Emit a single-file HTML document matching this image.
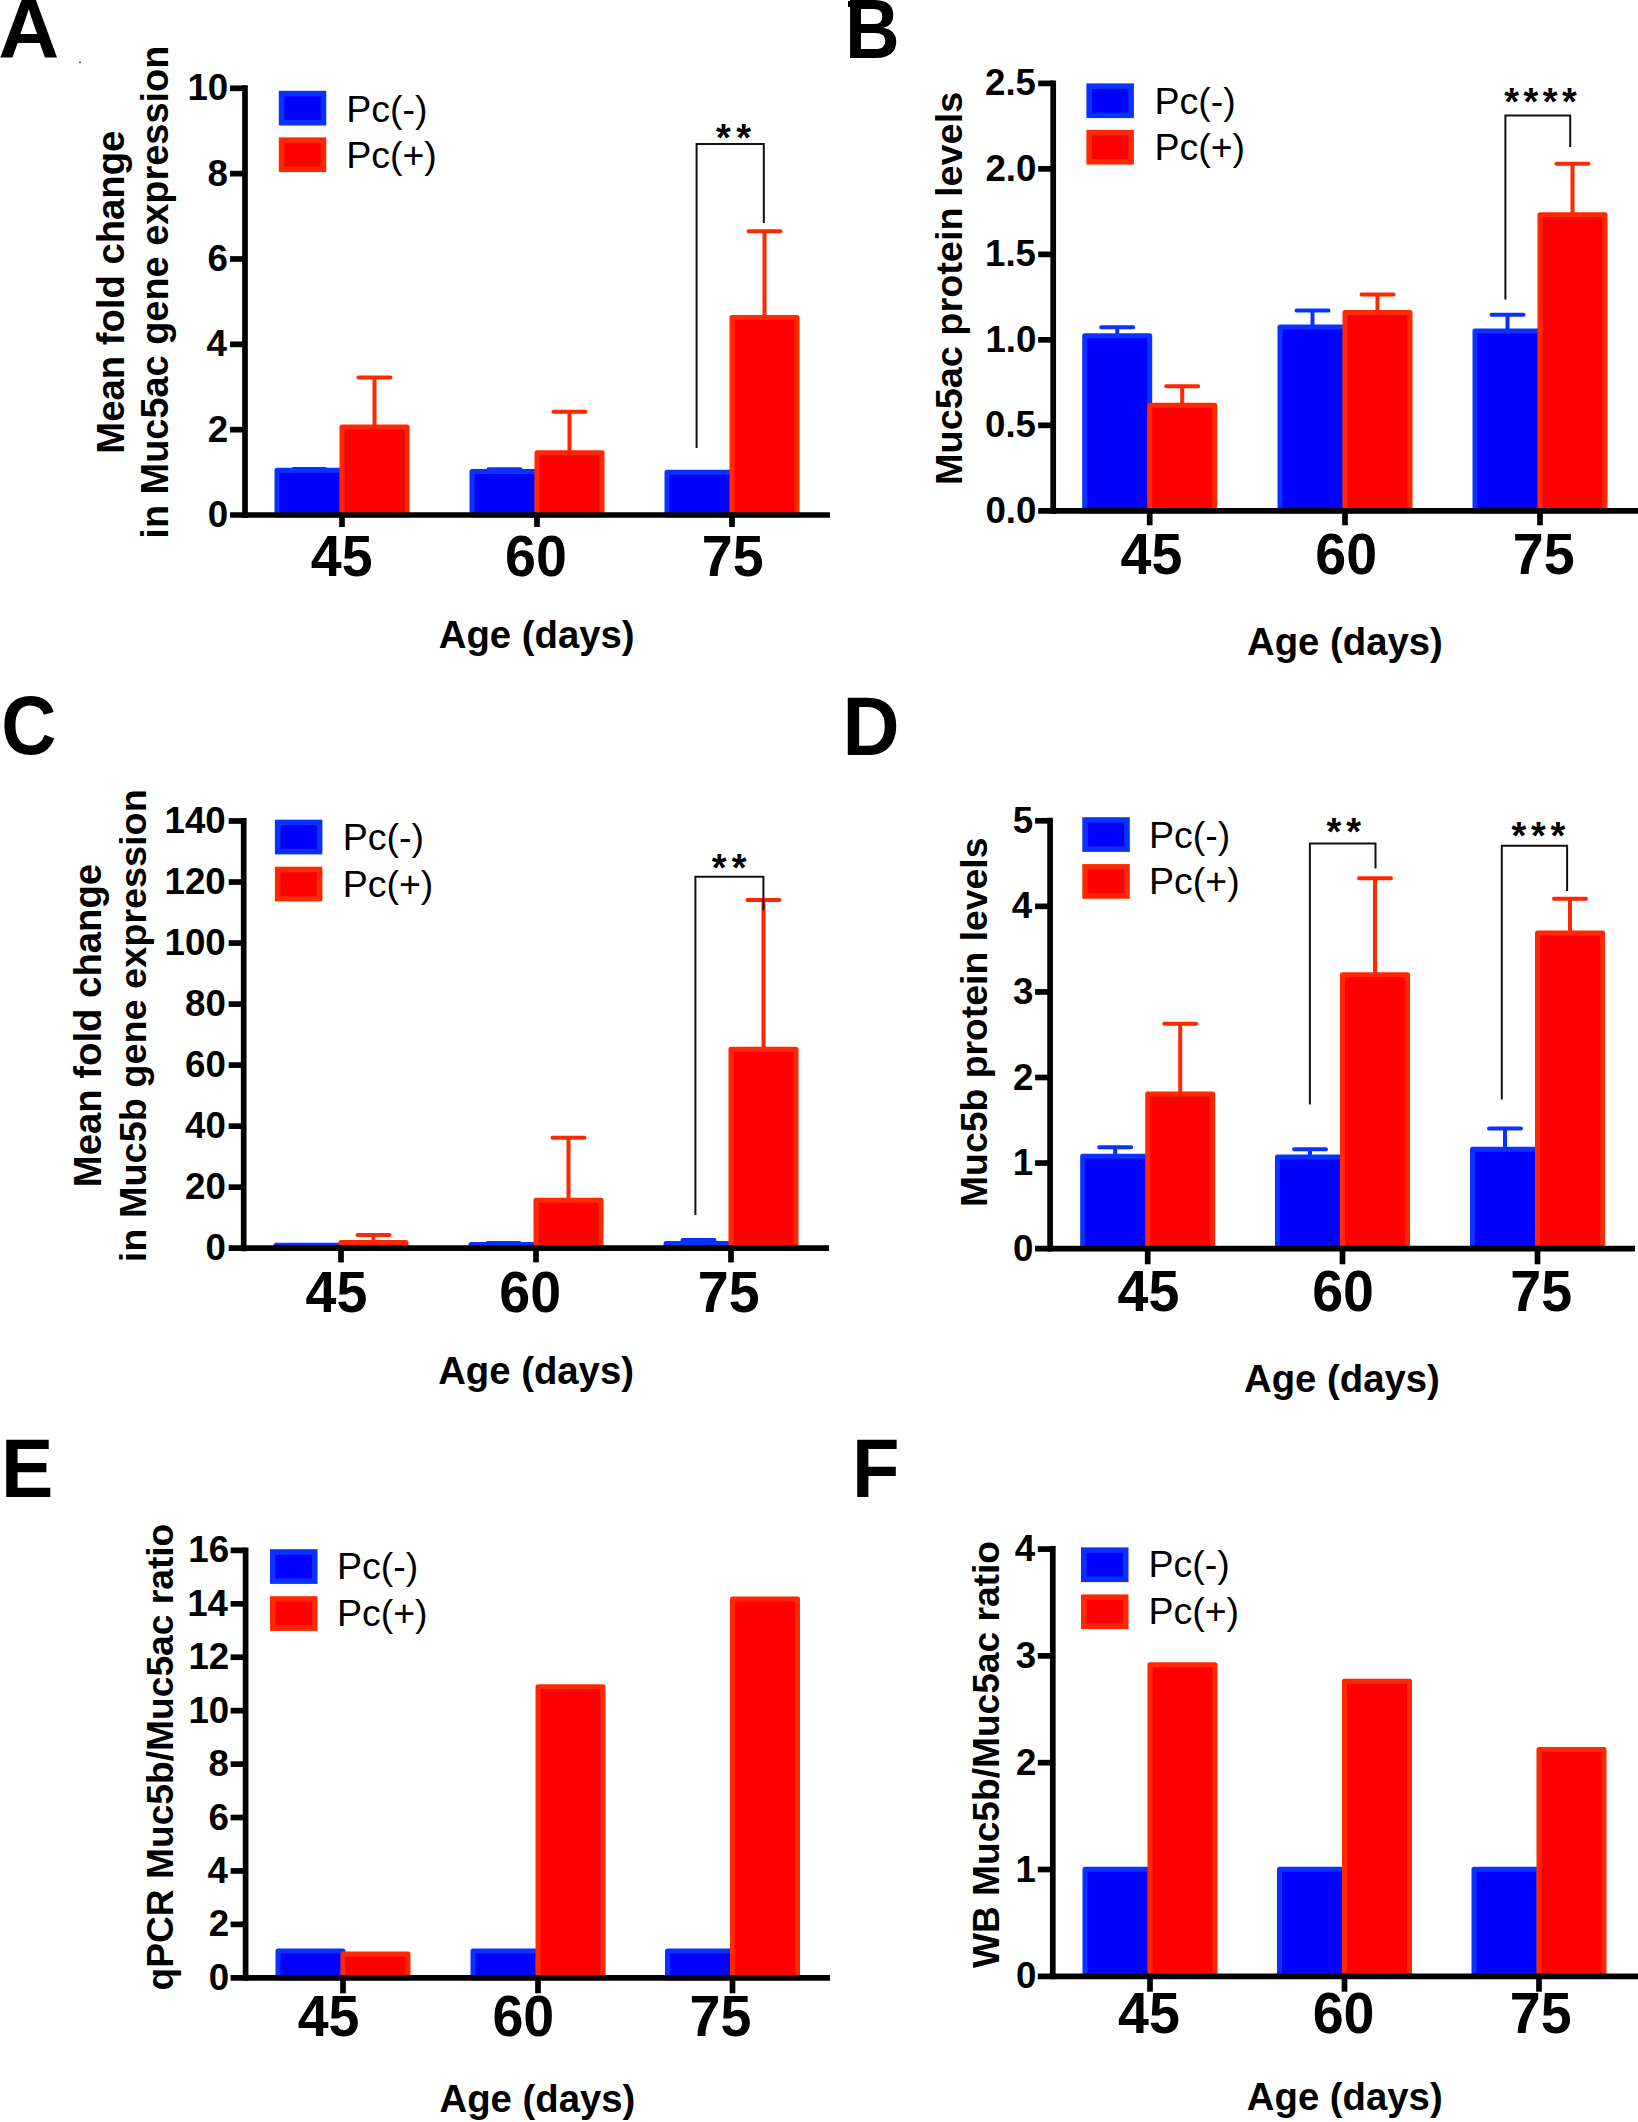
<!DOCTYPE html>
<html lang="en"><head><meta charset="utf-8"><title>Figure</title>
<style>html,body{margin:0;padding:0;background:#fff}svg{display:block}text{fill:#000}</style></head>
<body><svg width="1638" height="2122" viewBox="0 0 1638 2122">
<rect width="1638" height="2122" fill="#fff"/>
<g id="panelA"><path d="M309.5 470.2V468.92M293.5 468.92H325.5" stroke="#0a32ff" stroke-width="4" stroke-linecap="round" fill="none"/>
<rect x="277" y="470.2" width="65" height="44.8" fill="#0000ff" stroke="#0a32ff" stroke-width="5" stroke-linejoin="round"/>
<path d="M374.5 427.1V377.6M358.5 377.6H390.5" stroke="#ff2800" stroke-width="4" stroke-linecap="round" fill="none"/>
<rect x="342" y="427.1" width="65" height="87.9" fill="#ff0000" stroke="#ff2800" stroke-width="5" stroke-linejoin="round"/>
<path d="M504.5 471.48V469.34M488.5 469.34H520.5" stroke="#0a32ff" stroke-width="4" stroke-linecap="round" fill="none"/>
<rect x="472" y="471.48" width="65" height="43.52" fill="#0000ff" stroke="#0a32ff" stroke-width="5" stroke-linejoin="round"/>
<path d="M569.5 452.7V411.74M553.5 411.74H585.5" stroke="#ff2800" stroke-width="4" stroke-linecap="round" fill="none"/>
<rect x="537" y="452.7" width="65" height="62.3" fill="#ff0000" stroke="#ff2800" stroke-width="5" stroke-linejoin="round"/>
<rect x="667" y="472.33" width="65" height="42.67" fill="#0000ff" stroke="#0a32ff" stroke-width="5" stroke-linejoin="round"/>
<path d="M764.5 317.44V231.24M748.5 231.24H780.5" stroke="#ff2800" stroke-width="4" stroke-linecap="round" fill="none"/>
<rect x="732" y="317.44" width="65" height="197.56" fill="#ff0000" stroke="#ff2800" stroke-width="5" stroke-linejoin="round"/>
<path d="M245 85.3V518" stroke="#000" stroke-width="5.7" fill="none"/>
<path d="M230 515H830" stroke="#000" stroke-width="5.7" fill="none"/>
<text x="207.8" y="527.02" font-family="Liberation Sans, Arial, sans-serif" font-weight="700" font-size="36.7">0</text>
<path d="M230 429.66H245" stroke="#000" stroke-width="5.7"/>
<text x="207.8" y="441.68" font-family="Liberation Sans, Arial, sans-serif" font-weight="700" font-size="36.7">2</text>
<path d="M230 344.32H245" stroke="#000" stroke-width="5.7"/>
<text x="206.51" y="356.34" font-family="Liberation Sans, Arial, sans-serif" font-weight="700" font-size="36.7">4</text>
<path d="M230 258.98H245" stroke="#000" stroke-width="5.7"/>
<text x="207.62" y="271" font-family="Liberation Sans, Arial, sans-serif" font-weight="700" font-size="36.7">6</text>
<path d="M230 173.64H245" stroke="#000" stroke-width="5.7"/>
<text x="207.43" y="185.66" font-family="Liberation Sans, Arial, sans-serif" font-weight="700" font-size="36.7">8</text>
<path d="M230 88.3H245" stroke="#000" stroke-width="5.7"/>
<text x="187.43" y="100.32" font-family="Liberation Sans, Arial, sans-serif" font-weight="700" font-size="36.7">10</text>
<path d="M342 515V527" stroke="#000" stroke-width="5.7"/>
<text transform="translate(311.65 575.5) scale(0.9780 1)" x="-0.85" y="0" font-family="Liberation Sans, Arial, sans-serif" font-weight="700" font-size="56.8">45</text>
<path d="M537 515V527" stroke="#000" stroke-width="5.7"/>
<text transform="translate(507.12 575.5) scale(0.9780 1)" x="-2.13" y="0" font-family="Liberation Sans, Arial, sans-serif" font-weight="700" font-size="56.8">60</text>
<path d="M732 515V527" stroke="#000" stroke-width="5.7"/>
<text transform="translate(704.11 575.5) scale(0.9780 1)" x="-2.41" y="0" font-family="Liberation Sans, Arial, sans-serif" font-weight="700" font-size="56.8">75</text>
<text x="438.77" y="648.3" font-family="Liberation Sans, Arial, sans-serif" font-weight="700" font-size="38.3">Age (days)</text>
<text transform="translate(123.9 453.68) rotate(-90)" font-family="Liberation Sans, Arial, sans-serif" font-weight="700" font-size="38.26">Mean fold change</text>
<text transform="translate(168.2 538.65) rotate(-90)" font-family="Liberation Sans, Arial, sans-serif" font-weight="700" font-size="37.92">in Muc5ac gene expression</text>
<rect x="281.55" y="93.55" width="42" height="29.2" fill="#0000ff" stroke="#0a32ff" stroke-width="5.5"/>
<text x="346.21" y="121.8" font-family="Liberation Sans, Arial, sans-serif" font-size="37.5">Pc(-)</text>
<rect x="281.55" y="140.15" width="42" height="29.2" fill="#ff0000" stroke="#ff2800" stroke-width="5.5"/>
<text x="346.21" y="168.2" font-family="Liberation Sans, Arial, sans-serif" font-size="37.5">Pc(+)</text>
<path d="M696.6 448V144H763.8V223" stroke="#111" stroke-width="2" fill="none"/>
<text x="716.11" y="151.07" font-family="Liberation Sans, Arial, sans-serif" font-weight="700" font-size="38" letter-spacing="5.38">**</text>
<text transform="translate(0.4 57.9) scale(1.0154 1)" x="-2.08" y="0" font-family="Liberation Sans, Arial, sans-serif" font-weight="700" font-size="83.2">A</text></g>
<g id="panelB"><path d="M1117.2 335.74V327.36M1101.2 327.36H1133.2" stroke="#0a32ff" stroke-width="4" stroke-linecap="round" fill="none"/>
<rect x="1084.7" y="335.74" width="65" height="175.06" fill="#0000ff" stroke="#0a32ff" stroke-width="5" stroke-linejoin="round"/>
<path d="M1182.2 405.15V386.17M1166.2 386.17H1198.2" stroke="#ff2800" stroke-width="4" stroke-linecap="round" fill="none"/>
<rect x="1149.7" y="405.15" width="65" height="105.65" fill="#ff0000" stroke="#ff2800" stroke-width="5" stroke-linejoin="round"/>
<path d="M1312.5 327.02V310.61M1296.5 310.61H1328.5" stroke="#0a32ff" stroke-width="4" stroke-linecap="round" fill="none"/>
<rect x="1280" y="327.02" width="65" height="183.78" fill="#0000ff" stroke="#0a32ff" stroke-width="5" stroke-linejoin="round"/>
<path d="M1377.5 312.49V294.54M1361.5 294.54H1393.5" stroke="#ff2800" stroke-width="4" stroke-linecap="round" fill="none"/>
<rect x="1345" y="312.49" width="65" height="198.31" fill="#ff0000" stroke="#ff2800" stroke-width="5" stroke-linejoin="round"/>
<path d="M1507.5 331.12V314.71M1491.5 314.71H1523.5" stroke="#0a32ff" stroke-width="4" stroke-linecap="round" fill="none"/>
<rect x="1475" y="331.12" width="65" height="179.68" fill="#0000ff" stroke="#0a32ff" stroke-width="5" stroke-linejoin="round"/>
<path d="M1572.5 214.7V163.75M1556.5 163.75H1588.5" stroke="#ff2800" stroke-width="4" stroke-linecap="round" fill="none"/>
<rect x="1540" y="214.7" width="65" height="296.1" fill="#ff0000" stroke="#ff2800" stroke-width="5" stroke-linejoin="round"/>
<path d="M1053.2 80.4V513.8" stroke="#000" stroke-width="5.7" fill="none"/>
<path d="M1038.2 510.8H1638" stroke="#000" stroke-width="5.7" fill="none"/>
<text x="985.46" y="522.82" font-family="Liberation Sans, Arial, sans-serif" font-weight="700" font-size="36.7">0.0</text>
<path d="M1038.2 425.32H1053.2" stroke="#000" stroke-width="5.7"/>
<text x="985" y="437.34" font-family="Liberation Sans, Arial, sans-serif" font-weight="700" font-size="36.7">0.5</text>
<path d="M1038.2 339.84H1053.2" stroke="#000" stroke-width="5.7"/>
<text x="985.46" y="351.86" font-family="Liberation Sans, Arial, sans-serif" font-weight="700" font-size="36.7">1.0</text>
<path d="M1038.2 254.36H1053.2" stroke="#000" stroke-width="5.7"/>
<text x="985" y="266.38" font-family="Liberation Sans, Arial, sans-serif" font-weight="700" font-size="36.7">1.5</text>
<path d="M1038.2 168.88H1053.2" stroke="#000" stroke-width="5.7"/>
<text x="985.46" y="180.9" font-family="Liberation Sans, Arial, sans-serif" font-weight="700" font-size="36.7">2.0</text>
<path d="M1038.2 83.4H1053.2" stroke="#000" stroke-width="5.7"/>
<text x="985" y="95.42" font-family="Liberation Sans, Arial, sans-serif" font-weight="700" font-size="36.7">2.5</text>
<path d="M1149.7 510.8V525.3" stroke="#000" stroke-width="5.7"/>
<text transform="translate(1121.35 573.5) scale(0.9780 1)" x="-0.85" y="0" font-family="Liberation Sans, Arial, sans-serif" font-weight="700" font-size="56.8">45</text>
<path d="M1345 510.8V525.3" stroke="#000" stroke-width="5.7"/>
<text transform="translate(1317.32 573.5) scale(0.9780 1)" x="-2.13" y="0" font-family="Liberation Sans, Arial, sans-serif" font-weight="700" font-size="56.8">60</text>
<path d="M1540 510.8V525.3" stroke="#000" stroke-width="5.7"/>
<text transform="translate(1515.11 573.5) scale(0.9780 1)" x="-2.41" y="0" font-family="Liberation Sans, Arial, sans-serif" font-weight="700" font-size="56.8">75</text>
<text x="1247.07" y="655" font-family="Liberation Sans, Arial, sans-serif" font-weight="700" font-size="38.3">Age (days)</text>
<text transform="translate(962 484.95) rotate(-90)" font-family="Liberation Sans, Arial, sans-serif" font-weight="700" font-size="37.85">Muc5ac protein levels</text>
<rect x="1089.15" y="86.15" width="42" height="29.2" fill="#0000ff" stroke="#0a32ff" stroke-width="5.5"/>
<text x="1154.41" y="113.5" font-family="Liberation Sans, Arial, sans-serif" font-size="37.5">Pc(-)</text>
<rect x="1089.15" y="132.65" width="42" height="29.2" fill="#ff0000" stroke="#ff2800" stroke-width="5.5"/>
<text x="1154.41" y="160" font-family="Liberation Sans, Arial, sans-serif" font-size="37.5">Pc(+)</text>
<path d="M1505.4 299.5V115.4H1570.2V147.1" stroke="#111" stroke-width="2" fill="none"/>
<text x="1504.2" y="115.27" font-family="Liberation Sans, Arial, sans-serif" font-weight="700" font-size="38" letter-spacing="4.5">****</text>
<text transform="translate(850.1 57.9) scale(0.9135 1)" x="-5.6" y="0" font-family="Liberation Sans, Arial, sans-serif" font-weight="700" font-size="82.91">B</text></g>
<g id="panelC"><rect x="276" y="1245.3" width="65" height="2.9" fill="#0000ff" stroke="#0a32ff" stroke-width="5" stroke-linejoin="round"/>
<path d="M373.5 1242.4V1235.08M357.5 1235.08H389.5" stroke="#ff2800" stroke-width="4" stroke-linecap="round" fill="none"/>
<rect x="341" y="1242.4" width="65" height="5.8" fill="#ff0000" stroke="#ff2800" stroke-width="5" stroke-linejoin="round"/>
<path d="M503.5 1244.54V1243.01M487.5 1243.01H519.5" stroke="#0a32ff" stroke-width="4" stroke-linecap="round" fill="none"/>
<rect x="471" y="1244.54" width="65" height="3.66" fill="#0000ff" stroke="#0a32ff" stroke-width="5" stroke-linejoin="round"/>
<path d="M568.5 1200.29V1137.74M552.5 1137.74H584.5" stroke="#ff2800" stroke-width="4" stroke-linecap="round" fill="none"/>
<rect x="536" y="1200.29" width="65" height="47.91" fill="#ff0000" stroke="#ff2800" stroke-width="5" stroke-linejoin="round"/>
<path d="M698.5 1243.41V1239.96M682.5 1239.96H714.5" stroke="#0a32ff" stroke-width="4" stroke-linecap="round" fill="none"/>
<rect x="666" y="1243.41" width="65" height="4.79" fill="#0000ff" stroke="#0a32ff" stroke-width="5" stroke-linejoin="round"/>
<path d="M763.5 1049.25V900.03M747.5 900.03H779.5" stroke="#ff2800" stroke-width="4" stroke-linecap="round" fill="none"/>
<rect x="731" y="1049.25" width="65" height="198.95" fill="#ff0000" stroke="#ff2800" stroke-width="5" stroke-linejoin="round"/>
<path d="M243.7 818V1251.2" stroke="#000" stroke-width="5.7" fill="none"/>
<path d="M228.7 1248.2H829" stroke="#000" stroke-width="5.7" fill="none"/>
<text x="205.4" y="1260.22" font-family="Liberation Sans, Arial, sans-serif" font-weight="700" font-size="36.7">0</text>
<path d="M228.7 1187.17H243.7" stroke="#000" stroke-width="5.7"/>
<text x="185.03" y="1199.2" font-family="Liberation Sans, Arial, sans-serif" font-weight="700" font-size="36.7">20</text>
<path d="M228.7 1126.14H243.7" stroke="#000" stroke-width="5.7"/>
<text x="185.03" y="1138.17" font-family="Liberation Sans, Arial, sans-serif" font-weight="700" font-size="36.7">40</text>
<path d="M228.7 1065.11H243.7" stroke="#000" stroke-width="5.7"/>
<text x="185.03" y="1077.14" font-family="Liberation Sans, Arial, sans-serif" font-weight="700" font-size="36.7">60</text>
<path d="M228.7 1004.09H243.7" stroke="#000" stroke-width="5.7"/>
<text x="185.03" y="1016.11" font-family="Liberation Sans, Arial, sans-serif" font-weight="700" font-size="36.7">80</text>
<path d="M228.7 943.06H243.7" stroke="#000" stroke-width="5.7"/>
<text x="164.57" y="955.08" font-family="Liberation Sans, Arial, sans-serif" font-weight="700" font-size="36.7">100</text>
<path d="M228.7 882.03H243.7" stroke="#000" stroke-width="5.7"/>
<text x="164.57" y="894.05" font-family="Liberation Sans, Arial, sans-serif" font-weight="700" font-size="36.7">120</text>
<path d="M228.7 821H243.7" stroke="#000" stroke-width="5.7"/>
<text x="164.57" y="833.02" font-family="Liberation Sans, Arial, sans-serif" font-weight="700" font-size="36.7">140</text>
<path d="M341 1248.2V1262.4" stroke="#000" stroke-width="5.7"/>
<text transform="translate(306.35 1311.5) scale(0.9780 1)" x="-0.85" y="0" font-family="Liberation Sans, Arial, sans-serif" font-weight="700" font-size="56.8">45</text>
<path d="M536 1248.2V1262.4" stroke="#000" stroke-width="5.7"/>
<text transform="translate(501.32 1311.5) scale(0.9780 1)" x="-2.13" y="0" font-family="Liberation Sans, Arial, sans-serif" font-weight="700" font-size="56.8">60</text>
<path d="M731 1248.2V1262.4" stroke="#000" stroke-width="5.7"/>
<text transform="translate(700.11 1311.5) scale(0.9780 1)" x="-2.41" y="0" font-family="Liberation Sans, Arial, sans-serif" font-weight="700" font-size="56.8">75</text>
<text x="438.17" y="1383.8" font-family="Liberation Sans, Arial, sans-serif" font-weight="700" font-size="38.3">Age (days)</text>
<text transform="translate(101 1187.18) rotate(-90)" font-family="Liberation Sans, Arial, sans-serif" font-weight="700" font-size="38.29">Mean fold change</text>
<text transform="translate(145.9 1262.15) rotate(-90)" font-family="Liberation Sans, Arial, sans-serif" font-weight="700" font-size="37.83">in Muc5b gene expression</text>
<rect x="277.65" y="822.45" width="42" height="29.2" fill="#0000ff" stroke="#0a32ff" stroke-width="5.5"/>
<text x="342.71" y="849.8" font-family="Liberation Sans, Arial, sans-serif" font-size="37.5">Pc(-)</text>
<rect x="277.65" y="869.45" width="42" height="29.2" fill="#ff0000" stroke="#ff2800" stroke-width="5.5"/>
<text x="342.71" y="897" font-family="Liberation Sans, Arial, sans-serif" font-size="37.5">Pc(+)</text>
<path d="M695.4 1215V876.8H763.4V910.2" stroke="#111" stroke-width="2" fill="none"/>
<text x="711.8" y="880.77" font-family="Liberation Sans, Arial, sans-serif" font-weight="700" font-size="38" letter-spacing="5.28">**</text>
<text transform="translate(4.2 753.96) scale(0.9138 1)" x="-3.34" y="0" font-family="Liberation Sans, Arial, sans-serif" font-weight="700" font-size="83.53">C</text></g>
<g id="panelD"><path d="M1115.2 1156.28V1147.21M1099.2 1147.21H1131.2" stroke="#0a32ff" stroke-width="4" stroke-linecap="round" fill="none"/>
<rect x="1082.7" y="1156.28" width="65" height="92.32" fill="#0000ff" stroke="#0a32ff" stroke-width="5" stroke-linejoin="round"/>
<path d="M1180.2 1093.99V1023.83M1164.2 1023.83H1196.2" stroke="#ff2800" stroke-width="4" stroke-linecap="round" fill="none"/>
<rect x="1147.7" y="1093.99" width="65" height="154.61" fill="#ff0000" stroke="#ff2800" stroke-width="5" stroke-linejoin="round"/>
<path d="M1310 1156.88V1149.18M1294 1149.18H1326" stroke="#0a32ff" stroke-width="4" stroke-linecap="round" fill="none"/>
<rect x="1277.5" y="1156.88" width="65" height="91.72" fill="#0000ff" stroke="#0a32ff" stroke-width="5" stroke-linejoin="round"/>
<path d="M1375 974.81V878.13M1359 878.13H1391" stroke="#ff2800" stroke-width="4" stroke-linecap="round" fill="none"/>
<rect x="1342.5" y="974.81" width="65" height="273.79" fill="#ff0000" stroke="#ff2800" stroke-width="5" stroke-linejoin="round"/>
<path d="M1505 1149.35V1128.47M1489 1128.47H1521" stroke="#0a32ff" stroke-width="4" stroke-linecap="round" fill="none"/>
<rect x="1472.5" y="1149.35" width="65" height="99.25" fill="#0000ff" stroke="#0a32ff" stroke-width="5" stroke-linejoin="round"/>
<path d="M1570 932.88V898.66M1554 898.66H1586" stroke="#ff2800" stroke-width="4" stroke-linecap="round" fill="none"/>
<rect x="1537.5" y="932.88" width="65" height="315.72" fill="#ff0000" stroke="#ff2800" stroke-width="5" stroke-linejoin="round"/>
<path d="M1050.1 817.8V1251.6" stroke="#000" stroke-width="5.7" fill="none"/>
<path d="M1035.1 1248.6H1635" stroke="#000" stroke-width="5.7" fill="none"/>
<text x="1013.1" y="1260.62" font-family="Liberation Sans, Arial, sans-serif" font-weight="700" font-size="36.7">0</text>
<path d="M1035.1 1163.04H1050.1" stroke="#000" stroke-width="5.7"/>
<text x="1012.64" y="1175.06" font-family="Liberation Sans, Arial, sans-serif" font-weight="700" font-size="36.7">1</text>
<path d="M1035.1 1077.48H1050.1" stroke="#000" stroke-width="5.7"/>
<text x="1013.1" y="1089.5" font-family="Liberation Sans, Arial, sans-serif" font-weight="700" font-size="36.7">2</text>
<path d="M1035.1 991.92H1050.1" stroke="#000" stroke-width="5.7"/>
<text x="1012.92" y="1003.94" font-family="Liberation Sans, Arial, sans-serif" font-weight="700" font-size="36.7">3</text>
<path d="M1035.1 906.36H1050.1" stroke="#000" stroke-width="5.7"/>
<text x="1011.82" y="918.38" font-family="Liberation Sans, Arial, sans-serif" font-weight="700" font-size="36.7">4</text>
<path d="M1035.1 820.8H1050.1" stroke="#000" stroke-width="5.7"/>
<text x="1012.64" y="832.82" font-family="Liberation Sans, Arial, sans-serif" font-weight="700" font-size="36.7">5</text>
<path d="M1147.7 1248.6V1264.3" stroke="#000" stroke-width="5.7"/>
<text transform="translate(1118.35 1311) scale(0.9780 1)" x="-0.85" y="0" font-family="Liberation Sans, Arial, sans-serif" font-weight="700" font-size="56.8">45</text>
<path d="M1342.5 1248.6V1264.3" stroke="#000" stroke-width="5.7"/>
<text transform="translate(1314.22 1311) scale(0.9780 1)" x="-2.13" y="0" font-family="Liberation Sans, Arial, sans-serif" font-weight="700" font-size="56.8">60</text>
<path d="M1537.5 1248.6V1264.3" stroke="#000" stroke-width="5.7"/>
<text transform="translate(1512.61 1311) scale(0.9780 1)" x="-2.41" y="0" font-family="Liberation Sans, Arial, sans-serif" font-weight="700" font-size="56.8">75</text>
<text x="1244.07" y="1391.8" font-family="Liberation Sans, Arial, sans-serif" font-weight="700" font-size="38.3">Age (days)</text>
<text transform="translate(987.4 1207.02) rotate(-90)" font-family="Liberation Sans, Arial, sans-serif" font-weight="700" font-size="37.36">Muc5b protein levels</text>
<rect x="1085.05" y="819.95" width="42" height="29.2" fill="#0000ff" stroke="#0a32ff" stroke-width="5.5"/>
<text x="1149.11" y="847.6" font-family="Liberation Sans, Arial, sans-serif" font-size="37.5">Pc(-)</text>
<rect x="1085.05" y="866.85" width="42" height="29.2" fill="#ff0000" stroke="#ff2800" stroke-width="5.5"/>
<text x="1149.11" y="894" font-family="Liberation Sans, Arial, sans-serif" font-size="37.5">Pc(+)</text>
<path d="M1309.9 1104.5V843.6H1375.5V868.5" stroke="#111" stroke-width="2" fill="none"/>
<text x="1326.4" y="845.37" font-family="Liberation Sans, Arial, sans-serif" font-weight="700" font-size="38" letter-spacing="5.18">**</text>
<path d="M1501.8 1099.4V845.7H1567.1V891.1" stroke="#111" stroke-width="2" fill="none"/>
<text x="1511.61" y="848.77" font-family="Liberation Sans, Arial, sans-serif" font-weight="700" font-size="38" letter-spacing="4.7">***</text>
<text transform="translate(847.9 754.5) scale(0.9481 1)" x="-5.63" y="0" font-family="Liberation Sans, Arial, sans-serif" font-weight="700" font-size="83.35">D</text></g>
<g id="panelE"><rect x="278" y="1950.9" width="65" height="26.9" fill="#0000ff" stroke="#0a32ff" stroke-width="5" stroke-linejoin="round"/>
<rect x="343" y="1954.03" width="65" height="23.77" fill="#ff0000" stroke="#ff2800" stroke-width="5" stroke-linejoin="round"/>
<rect x="473" y="1950.9" width="65" height="26.9" fill="#0000ff" stroke="#0a32ff" stroke-width="5" stroke-linejoin="round"/>
<rect x="538" y="1686.63" width="65" height="291.17" fill="#ff0000" stroke="#ff2800" stroke-width="5" stroke-linejoin="round"/>
<rect x="667.5" y="1950.9" width="65" height="26.9" fill="#0000ff" stroke="#0a32ff" stroke-width="5" stroke-linejoin="round"/>
<rect x="732.5" y="1599.02" width="65" height="378.78" fill="#ff0000" stroke="#ff2800" stroke-width="5" stroke-linejoin="round"/>
<path d="M245.6 1547.4V1980.8" stroke="#000" stroke-width="5.7" fill="none"/>
<path d="M230.6 1977.8H830" stroke="#000" stroke-width="5.7" fill="none"/>
<text x="208.8" y="1989.82" font-family="Liberation Sans, Arial, sans-serif" font-weight="700" font-size="36.7">0</text>
<path d="M230.6 1924.38H245.6" stroke="#000" stroke-width="5.7"/>
<text x="208.8" y="1936.4" font-family="Liberation Sans, Arial, sans-serif" font-weight="700" font-size="36.7">2</text>
<path d="M230.6 1870.95H245.6" stroke="#000" stroke-width="5.7"/>
<text x="207.51" y="1882.97" font-family="Liberation Sans, Arial, sans-serif" font-weight="700" font-size="36.7">4</text>
<path d="M230.6 1817.53H245.6" stroke="#000" stroke-width="5.7"/>
<text x="208.62" y="1829.55" font-family="Liberation Sans, Arial, sans-serif" font-weight="700" font-size="36.7">6</text>
<path d="M230.6 1764.1H245.6" stroke="#000" stroke-width="5.7"/>
<text x="208.43" y="1776.12" font-family="Liberation Sans, Arial, sans-serif" font-weight="700" font-size="36.7">8</text>
<path d="M230.6 1710.68H245.6" stroke="#000" stroke-width="5.7"/>
<text x="188.43" y="1722.7" font-family="Liberation Sans, Arial, sans-serif" font-weight="700" font-size="36.7">10</text>
<path d="M230.6 1657.25H245.6" stroke="#000" stroke-width="5.7"/>
<text x="188.43" y="1669.27" font-family="Liberation Sans, Arial, sans-serif" font-weight="700" font-size="36.7">12</text>
<path d="M230.6 1603.83H245.6" stroke="#000" stroke-width="5.7"/>
<text x="187.15" y="1615.85" font-family="Liberation Sans, Arial, sans-serif" font-weight="700" font-size="36.7">14</text>
<path d="M230.6 1550.4H245.6" stroke="#000" stroke-width="5.7"/>
<text x="188.25" y="1562.42" font-family="Liberation Sans, Arial, sans-serif" font-weight="700" font-size="36.7">16</text>
<path d="M343 1977.8V1993.3" stroke="#000" stroke-width="5.7"/>
<text transform="translate(298.55 2035.5) scale(0.9780 1)" x="-0.85" y="0" font-family="Liberation Sans, Arial, sans-serif" font-weight="700" font-size="56.8">45</text>
<path d="M538 1977.8V1993.3" stroke="#000" stroke-width="5.7"/>
<text transform="translate(494.52 2035.5) scale(0.9780 1)" x="-2.13" y="0" font-family="Liberation Sans, Arial, sans-serif" font-weight="700" font-size="56.8">60</text>
<path d="M732.5 1977.8V1993.3" stroke="#000" stroke-width="5.7"/>
<text transform="translate(691.91 2035.5) scale(0.9780 1)" x="-2.41" y="0" font-family="Liberation Sans, Arial, sans-serif" font-weight="700" font-size="56.8">75</text>
<text x="439.57" y="2111.5" font-family="Liberation Sans, Arial, sans-serif" font-weight="700" font-size="38.3">Age (days)</text>
<text transform="translate(172.6 1990.49) rotate(-90)" font-family="Liberation Sans, Arial, sans-serif" font-weight="700" font-size="37.18">qPCR Muc5b/Muc5ac ratio</text>
<rect x="272.75" y="1551.95" width="42" height="29.2" fill="#0000ff" stroke="#0a32ff" stroke-width="5.5"/>
<text x="336.91" y="1578.6" font-family="Liberation Sans, Arial, sans-serif" font-size="37.5">Pc(-)</text>
<rect x="272.75" y="1598.95" width="42" height="29.2" fill="#ff0000" stroke="#ff2800" stroke-width="5.5"/>
<text x="336.91" y="1625.5" font-family="Liberation Sans, Arial, sans-serif" font-size="37.5">Pc(+)</text>
<text transform="translate(6.2 1496.5) scale(0.9427 1)" x="-5.63" y="0" font-family="Liberation Sans, Arial, sans-serif" font-weight="700" font-size="83.35">E</text></g>
<g id="panelF"><rect x="1085" y="1869.18" width="65" height="107.12" fill="#0000ff" stroke="#0a32ff" stroke-width="5" stroke-linejoin="round"/>
<rect x="1150" y="1664.66" width="65" height="311.64" fill="#ff0000" stroke="#ff2800" stroke-width="5" stroke-linejoin="round"/>
<rect x="1279.5" y="1869.18" width="65" height="107.12" fill="#0000ff" stroke="#0a32ff" stroke-width="5" stroke-linejoin="round"/>
<rect x="1344.5" y="1681.21" width="65" height="295.09" fill="#ff0000" stroke="#ff2800" stroke-width="5" stroke-linejoin="round"/>
<rect x="1474" y="1869.18" width="65" height="107.12" fill="#0000ff" stroke="#0a32ff" stroke-width="5" stroke-linejoin="round"/>
<rect x="1539" y="1749.56" width="65" height="226.74" fill="#ff0000" stroke="#ff2800" stroke-width="5" stroke-linejoin="round"/>
<path d="M1052.8 1546.1V1979.3" stroke="#000" stroke-width="5.7" fill="none"/>
<path d="M1037.8 1976.3H1638" stroke="#000" stroke-width="5.7" fill="none"/>
<text x="1016" y="1988.32" font-family="Liberation Sans, Arial, sans-serif" font-weight="700" font-size="36.7">0</text>
<path d="M1037.8 1869.5H1052.8" stroke="#000" stroke-width="5.7"/>
<text x="1015.54" y="1881.52" font-family="Liberation Sans, Arial, sans-serif" font-weight="700" font-size="36.7">1</text>
<path d="M1037.8 1762.7H1052.8" stroke="#000" stroke-width="5.7"/>
<text x="1016" y="1774.72" font-family="Liberation Sans, Arial, sans-serif" font-weight="700" font-size="36.7">2</text>
<path d="M1037.8 1655.9H1052.8" stroke="#000" stroke-width="5.7"/>
<text x="1015.82" y="1667.92" font-family="Liberation Sans, Arial, sans-serif" font-weight="700" font-size="36.7">3</text>
<path d="M1037.8 1549.1H1052.8" stroke="#000" stroke-width="5.7"/>
<text x="1014.72" y="1561.12" font-family="Liberation Sans, Arial, sans-serif" font-weight="700" font-size="36.7">4</text>
<path d="M1150 1976.3V1991.7" stroke="#000" stroke-width="5.7"/>
<text transform="translate(1118.85 2032.8) scale(0.9780 1)" x="-0.85" y="0" font-family="Liberation Sans, Arial, sans-serif" font-weight="700" font-size="56.8">45</text>
<path d="M1344.5 1976.3V1991.7" stroke="#000" stroke-width="5.7"/>
<text transform="translate(1314.72 2032.8) scale(0.9780 1)" x="-2.13" y="0" font-family="Liberation Sans, Arial, sans-serif" font-weight="700" font-size="56.8">60</text>
<path d="M1539 1976.3V1991.7" stroke="#000" stroke-width="5.7"/>
<text transform="translate(1512.11 2032.8) scale(0.9780 1)" x="-2.41" y="0" font-family="Liberation Sans, Arial, sans-serif" font-weight="700" font-size="56.8">75</text>
<text x="1246.87" y="2109.8" font-family="Liberation Sans, Arial, sans-serif" font-weight="700" font-size="38.3">Age (days)</text>
<text transform="translate(998.5 1968.09) rotate(-90)" font-family="Liberation Sans, Arial, sans-serif" font-weight="700" font-size="37.14">WB Muc5b/Muc5ac ratio</text>
<rect x="1083.75" y="1550.15" width="42" height="29.2" fill="#0000ff" stroke="#0a32ff" stroke-width="5.5"/>
<text x="1148.41" y="1577.3" font-family="Liberation Sans, Arial, sans-serif" font-size="37.5">Pc(-)</text>
<rect x="1083.75" y="1597.15" width="42" height="29.2" fill="#ff0000" stroke="#ff2800" stroke-width="5.5"/>
<text x="1148.41" y="1624" font-family="Liberation Sans, Arial, sans-serif" font-size="37.5">Pc(+)</text>
<text transform="translate(857.3 1496.5) scale(0.9339 1)" x="-5.63" y="0" font-family="Liberation Sans, Arial, sans-serif" font-weight="700" font-size="83.35">F</text></g>
<circle cx="80" cy="62.2" r="1" fill="#555"/>
<rect x="848" y="1" width="3" height="6" fill="#000"/>
</svg></body></html>
